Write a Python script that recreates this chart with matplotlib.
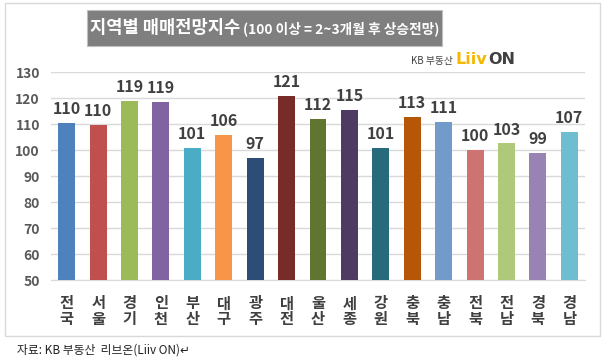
import matplotlib.pyplot as plt
from matplotlib.patches import Rectangle

plt.rcParams['font.family'] = ['Noto Sans CJK KR', 'DejaVu Sans']

regions = ['전국', '서울', '경기', '인천', '부산', '대구', '광주', '대전', '울산',
           '세종', '강원', '충북', '충남', '전북', '전남', '경북', '경남']
values = [110.5, 109.6, 118.8, 118.6, 100.7, 105.7, 96.9, 120.8, 111.9,
          115.4, 100.7, 112.7, 110.7, 100.0, 102.6, 98.8, 107.0]
colors = ['#4f81bd', '#c0504d', '#9bbb59', '#8064a2', '#4bacc6', '#f79646',
          '#2c4d75', '#772c2a', '#5f7530', '#4d3b62', '#276a7c', '#b65708',
          '#729aca', '#cd7371', '#afc97a', '#9983b5', '#6fbdd1']
yticks = [50, 60, 70, 80, 90, 100, 110, 120, 130]

W, H = 606, 360
fig = plt.figure(figsize=(W / 100, H / 100), dpi=100)
fig.patches.append(Rectangle((5 / W, 1 - 336 / H), 595 / W, 333 / H,
                             transform=fig.transFigure, fill=False,
                             edgecolor='#d9d9d9', linewidth=1))

ax = fig.add_axes([51 / W, 1 - 280 / H, 534 / W, 208 / H])
x = range(len(regions))
ax.bar(x, values, width=0.54, color=colors, zorder=3)
for i, v in enumerate(values):
    ax.text(i, v + 2.2, f'{round(v):d}', ha='center', va='bottom',
            fontsize=11.5, fontweight='bold', color='#404040')

ax.set_xlim(-0.5, len(regions) - 0.5)
ax.set_ylim(50, 130)
ax.set_yticks(yticks)
ax.set_yticklabels([str(t) for t in yticks], fontsize=10, fontweight='bold',
                   color='#595959')
ax.set_xticks(list(x))
ax.set_xticklabels(['\n'.join(r) for r in regions], fontsize=11,
                   fontweight='bold', color='#404040', linespacing=0.95)
ax.tick_params(length=0)
ax.tick_params(axis='y', pad=8)
ax.tick_params(axis='x', pad=11)
ax.yaxis.grid(True, color='#d9d9d9', linewidth=1, zorder=0)
for s in ['top', 'right', 'left']:
    ax.spines[s].set_visible(False)
ax.spines['bottom'].set_color('#d9d9d9')

# title box
fig.patches.append(Rectangle((87 / W, 1 - 46 / H), 355 / W, 36 / H,
                             transform=fig.transFigure, facecolor='#7f7f7f',
                             edgecolor='#bfbfbf', linewidth=0.8))
t1 = fig.text(90 / W, 1 - 28 / H, '지역별 매매전망지수', fontsize=14,
              fontweight='bold', color='white', va='center', ha='left')
t2 = fig.text(243 / W, 1 - 29 / H, '(100 이상 = 2~3개월 후 상승전망)',
              fontsize=10, fontweight='bold', color='white', va='center',
              ha='left')
fig.canvas.draw()
r = fig.canvas.get_renderer()
t1.set_fontsize(14 * 150 / t1.get_window_extent(r).width)
t2.set_fontsize(10 * 196 / t2.get_window_extent(r).width)

# logo
k = fig.text(411 / W, 1 - 61 / H, 'KB 부동산', fontsize=7, color='#404040',
             va='center', ha='left')
fig.canvas.draw()
x0 = k.get_window_extent(r).x1 + 3
l = fig.text(x0 / W, 1 - 60 / H, 'Liiv', fontsize=11.5, fontweight='bold',
             color='#f5b800', va='center', ha='left', family='DejaVu Sans')
fig.canvas.draw()
x1 = l.get_window_extent(r).x1 + 1
fig.text(x1 / W, 1 - 60 / H, 'ON', fontsize=11.5, fontweight='bold',
         color='#404040', va='center', ha='left', family='DejaVu Sans')

fig.text(17 / W, 1 - 350 / H, '자료: KB 부동산  리브온(Liiv ON)↵', fontsize=8.5,
         color='#222222', va='center', ha='left')

fig.savefig('out.png', dpi=100)
